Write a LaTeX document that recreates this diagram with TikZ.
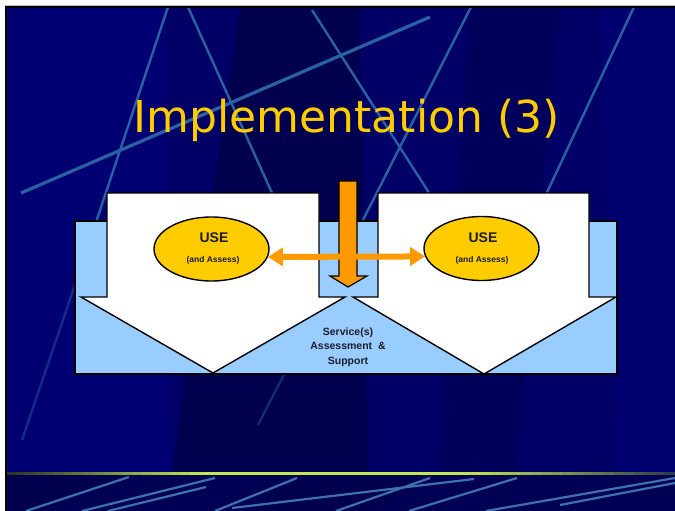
\documentclass[tikz,border=0pt]{standalone}
\usepackage{fontspec}
\setmainfont{Liberation Sans}
\newfontfamily\titlefont{DejaVu Sans}
\usetikzlibrary{arrows.meta,shapes.geometric}

\definecolor{navybase}{RGB}{0,0,102}
\definecolor{navydark}{RGB}{0,0,78}
\definecolor{navylight}{RGB}{0,0,114}
\definecolor{navyfoot}{RGB}{0,0,84}
\definecolor{streak}{RGB}{40,98,164}
\definecolor{paleblue}{RGB}{153,204,255}
\definecolor{gold}{RGB}{255,204,0}
\definecolor{blockorange}{RGB}{255,153,0}
\definecolor{inkdark}{RGB}{28,28,44}
\definecolor{railleft}{RGB}{40,46,40}
\definecolor{railmid}{RGB}{192,232,82}
\definecolor{railright}{RGB}{40,60,72}

\tikzset{
  streakline/.style={streak, line width=2.4pt},
  footline/.style={streak!90!white, line width=2.2pt},
  outline/.style={draw=black, line width=1.4pt, line join=miter},
  bigarrow/.style={outline, fill=white},
  useoval/.style={ellipse, draw=black, line width=1.4pt, fill=gold,
    minimum width=115pt, minimum height=64pt, inner sep=0pt},
  usehead/.style={font=\bfseries\fontsize{14}{16}\selectfont, text=inkdark},
  usesub/.style={font=\bfseries\fontsize{8.5}{10}\selectfont, text=inkdark},
  linkarrow/.style={blockorange, line width=6pt,
    {Triangle[length=15pt,width=18pt]}-{Triangle[length=15pt,width=18pt]}},
}

\begin{document}
\begin{tikzpicture}[x=1pt,y=-1pt]
\useasboundingbox (0,0) rectangle (675,511);
\fill[white] (0,0) rectangle (675,511);

% slide background
\fill[navybase] (5,7) rectangle (675,511);
\fill[navylight] (5,7) -- (165,7) -- (172,473) -- (5,473) -- cycle;
\fill[navydark] (240,7) -- (360,7) -- (368,473) -- (172,473) -- cycle;
\fill[navydark!50!navybase] (470,7) -- (560,7) -- (515,473) -- (440,473) -- cycle;
\fill[navylight!70!navybase] (600,7) -- (675,7) -- (675,473) -- (616,473) -- cycle;

% diagonal streaks
\begin{scope}
  \clip (5,7) rectangle (675,473);
  \draw[streakline, line width=3.2pt] (21,193) -- (430,17);
  \draw[streakline] (168,7) -- (80,270);
  \draw[streakline, opacity=0.45] (80,270) -- (22,440);
  \draw[streakline] (188,7) -- (300,255);
  \draw[streakline] (312,10) -- (440,210);
  \draw[streakline] (471,7) -- (330,285);
  \draw[streakline, opacity=0.45] (330,285) -- (258,425);
  \draw[streakline] (634,7) -- (520,250);
\end{scope}

% footer band
\fill[navyfoot] (5,474) rectangle (675,511);
\fill[navydark] (5,474) -- (120,474) -- (40,511) -- (5,511) -- cycle;
\fill[navydark] (300,474) -- (420,474) -- (380,511) -- (250,511) -- cycle;
\begin{scope}
  \clip (5,474) rectangle (675,511);
  \draw[footline] (26,511) -- (129,477);
  \draw[footline] (82,511) -- (215,478);
  \draw[footline] (108,511) -- (206,487);
  \draw[footline] (215,511) -- (297,478);
  \draw[footline] (232,508) -- (474,479);
  \draw[footline] (336,511) -- (430,478);
  \draw[footline] (409,511) -- (517,478);
  \draw[footline] (486,511) -- (675,478);
  \draw[footline] (560,505) -- (675,483);
\end{scope}
% lime rail above the footer: fades in, bright run, fades out
\foreach \i in {0,...,19}{
  \pgfmathsetmacro\xa{5+\i*9.75}
  \pgfmathsetmacro\xb{\xa+10.2}
  \pgfmathtruncatemacro\pc{\i*5+3}
  \fill[railmid!\pc!railleft] (\xa,471.5) rectangle (\xb,474.5);
}
\fill[railmid] (199.5,471.5) rectangle (470.5,474.5);
\foreach \i in {0,...,19}{
  \pgfmathsetmacro\xa{470+\i*10.25}
  \pgfmathsetmacro\xb{\xa+10.7}
  \pgfmathtruncatemacro\pc{97-\i*5}
  \fill[railmid!\pc!railright] (\xa,471.5) rectangle (\xb,474.5);
}

% slide frame
\draw[gray!55, line width=1pt] (5,6) -- (675,6);
\draw[black, line width=1.6pt] (5.8,511) -- (5.8,7.3) -- (675,7.3);

% title
\node[anchor=base, text=gold, inner sep=0pt,
      font=\titlefont\fontsize{44}{50}\selectfont] (title) at (346.5,132)
  {Implementation (3)};

% pale blue panel
\node[outline, fill=paleblue, minimum width=542pt, minimum height=153pt,
      inner sep=0pt] (panel) at (346,297.5) {};

% two large white arrows
\draw[bigarrow] (107,193) -- (319,193) -- (319,297) -- (345,297)
  -- (213,373) -- (81,297) -- (107,297) -- cycle;
\draw[bigarrow] (378,193) -- (589,193) -- (589,297) -- (616,297)
  -- (484,374) -- (353,297) -- (378,297) -- cycle;

% use ovals
\node[useoval] (useL) at (211.5,249) {};
\node[useoval] (useR) at (481.5,248.5) {};
\node[usehead] (useLa) at (214,238) {USE};
\node[usesub]  (useLb) at (213,260) {(and Assess)};
\node[usehead] (useRa) at (483,238) {USE};
\node[usesub]  (useRb) at (482,260) {(and Assess)};

% orange down arrow into the gap
\draw[outline, line width=1.2pt, fill=blockorange]
  (339,181) -- (357,181) -- (357,276) -- (367,276) -- (348,287)
  -- (330,276) -- (339,276) -- cycle;

% link between the two ovals
\draw[linkarrow] (useL.-8) -- (useR.188);

% shared service label
\node[align=center, text=inkdark, inner sep=0pt,
      font=\bfseries\fontsize{10.5}{14.5}\selectfont] (service) at (348,347)
  {Service(s)\\Assessment~~\&\\Support};
\end{tikzpicture}
\end{document}
